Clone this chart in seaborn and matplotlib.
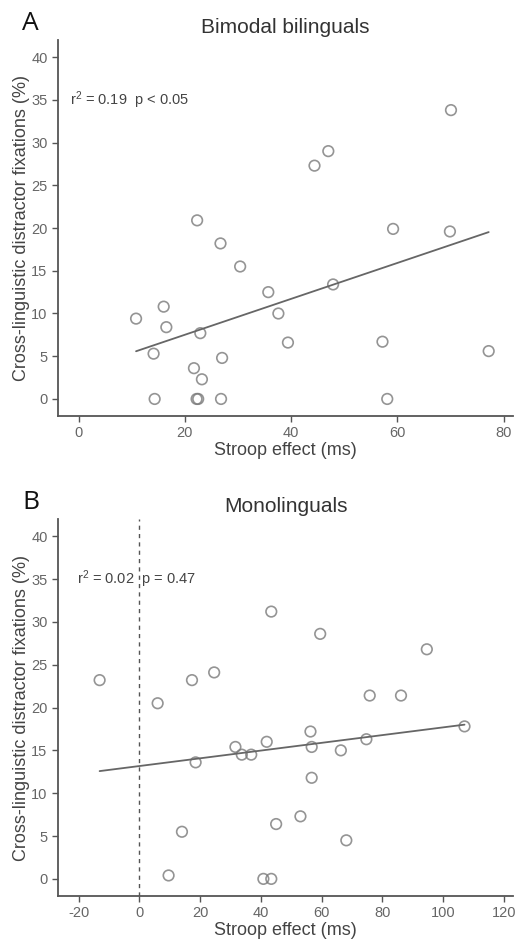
import matplotlib
matplotlib.use("Agg")
import matplotlib.pyplot as plt
import seaborn as sns
import pandas as pd

# Panel A: Bimodal bilinguals
bimodal_stroop = [10.8, 14.1, 14.3, 16.0, 16.5, 21.7, 22.2, 22.5, 22.9, 23.2, 22.3, 26.7, 27.0, 26.8,
                  30.4, 35.7, 37.6, 39.4, 44.4, 47.0, 47.9, 57.2, 58.1, 59.2, 69.9, 70.1, 77.2]
bimodal_fix = [9.4, 5.3, 0.0, 10.8, 8.4, 3.6, 0.0, 0.0, 7.7, 2.3, 20.9, 18.2, 4.8, 0.0,
               15.5, 12.5, 10.0, 6.6, 27.3, 29.0, 13.4, 6.7, 0.0, 19.9, 19.6, 33.8, 5.6]

# Panel B: Monolinguals
mono_stroop = [-13.1, 6.0, 17.3, 24.6, 43.4, 59.5, 75.8, 86.1, 94.6,
               9.6, 14.0, 18.5, 31.6, 33.7, 36.8, 41.9, 40.8, 43.4, 45.0, 53.0,
               56.3, 56.7, 56.7, 66.3, 68.1, 74.7, 107.0]
mono_fix = [23.2, 20.5, 23.2, 24.1, 31.2, 28.6, 21.4, 21.4, 26.8,
            0.4, 5.5, 13.6, 15.4, 14.5, 14.5, 16.0, 0.0, 0.0, 6.4, 7.3,
            17.2, 15.4, 11.8, 15.0, 4.5, 16.3, 17.8]

panel_letters = ["A", "B"]
titles = ["Bimodal bilinguals", "Monolinguals"]
stats_text = ["r$^2$ = 0.19  p < 0.05", "r$^2$ = 0.02  p = 0.47"]
xticks_list = [[0, 20, 40, 60, 80], [-20, 0, 20, 40, 60, 80, 100, 120]]
yticks = [0, 5, 10, 15, 20, 25, 30, 35, 40]
xlabel = "Stroop effect (ms)"
ylabel = "Cross-linguistic distractor fixations (%)"

sns.set_style("ticks")
plt.rcParams['font.family'] = ['Liberation Sans', 'DejaVu Sans']
plt.rcParams['mathtext.fontset'] = 'custom'
plt.rcParams['mathtext.rm'] = 'Liberation Sans'
plt.rcParams['mathtext.it'] = 'Liberation Sans'
plt.rcParams['axes.unicode_minus'] = False

grey = "#555555"
fig = plt.figure(figsize=(5.16, 9.40), dpi=100)
axA = fig.add_axes([0.1124, 0.5574, 0.8820, 0.400])
axB = fig.add_axes([0.1124, 0.0468, 0.8820, 0.401])

datasets = [
    pd.DataFrame({"stroop": bimodal_stroop, "fix": bimodal_fix}),
    pd.DataFrame({"stroop": mono_stroop, "fix": mono_fix}),
]
xlims = [(-3.9, 81.8), (-26.8, 123.0)]
text_x = [-1.7, -20.6]

for i, (ax, df) in enumerate(zip([axA, axB], datasets)):
    if i == 1:
        ax.axvline(0, color="#555555", linestyle=(0, (3, 3)), linewidth=1.0, zorder=1)
    sns.regplot(data=df, x="stroop", y="fix", ax=ax, ci=None, truncate=True,
                scatter_kws=dict(s=58, facecolors="none", edgecolors="#7a7a7a", linewidths=1.2),
                line_kws=dict(color="#666666", linewidth=1.3))
    ax.set_xlim(*xlims[i])
    ax.set_ylim(-2.0, 42.0)
    ax.set_xticks(xticks_list[i])
    ax.set_yticks(yticks)
    ax.set_xlabel(xlabel, fontsize=13, color="#444444", labelpad=1)
    ax.set_ylabel(ylabel, fontsize=13, color="#444444", labelpad=1)
    ax.tick_params(axis="both", colors=grey, labelsize=10.5, length=4, width=1.0, labelcolor="#666666")
    for s in ["left", "bottom"]:
        ax.spines[s].set_color(grey)
        ax.spines[s].set_linewidth(1.3)
    sns.despine(ax=ax)
    ax.set_title(titles[i], fontsize=15, color="#333333", pad=5)
    ax.text(text_x[i], 35, stats_text[i], fontsize=10.5, color="#444444", va="center", ha="left")
    ax.text(-0.079, 1.027, panel_letters[i], transform=ax.transAxes, fontsize=19,
            color="#111111", ha="left", va="baseline", family="Open Sans")

fig.savefig("out.png", dpi=100)
